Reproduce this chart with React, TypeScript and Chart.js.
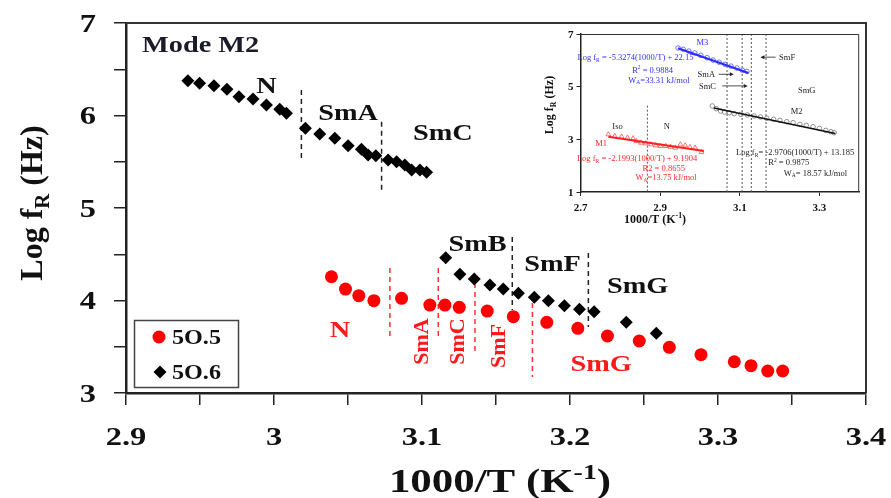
import React, { useEffect, useRef } from 'react';
import { Chart, registerables } from 'chart.js';
Chart.register(...registerables);

const FONT = '"Liberation Serif", "Times New Roman", serif';

// ---------- Main chart data ----------
const black56X = [2.9418, 2.9497, 2.9594, 2.9682, 2.9763, 2.9858, 2.9949, 3.0039, 3.0084,
  3.0212, 3.0309, 3.0411, 3.0501, 3.0591, 3.0636, 3.0688,
  3.0771, 3.0828, 3.0884, 3.0930, 3.0986, 3.1031,
  3.1160, 3.1256, 3.1353, 3.1459, 3.1549, 3.1651, 3.1759, 3.1854, 3.1962, 3.2064, 3.2163, 3.2380, 3.2583];
const black56Y = [6.376, 6.348, 6.322, 6.283, 6.203, 6.178, 6.114, 6.067, 6.024,
  5.862, 5.800, 5.754, 5.674, 5.635, 5.573, 5.565,
  5.519, 5.501, 5.465, 5.411, 5.411, 5.386,
  4.463, 4.283, 4.232, 4.168, 4.124, 4.078, 4.035, 3.998, 3.944, 3.905, 3.879, 3.764, 3.645];
const red55X = [3.0388, 3.0483, 3.0573, 3.0675, 3.0862, 3.1053, 3.1155, 3.1252, 3.1441, 3.1617,
  3.1843, 3.2053, 3.2253, 3.2468, 3.2671, 3.2885, 3.3110, 3.3223, 3.3336, 3.3437];
const red55Y = [4.257, 4.124, 4.052, 3.998, 4.024, 3.951, 3.951, 3.926, 3.886, 3.825,
  3.764, 3.699, 3.616, 3.562, 3.494, 3.414, 3.338, 3.295, 3.238, 3.238];

const blackDivX = [3.0185, 3.0727, 3.1610, 3.2124];
const blackDivTop = [6.276, 5.933, 4.686, 4.514];
const blackDivBottom = [5.497, 5.162, 3.897, 3.714];
const redDivX = [3.0783, 3.1110, 3.1358, 3.1746];
const redDivTop = [4.351, 4.351, 4.189, 3.973];
const redDivBottom = [3.573, 3.573, 3.411, 3.173];

const xAllTicks = [2.9, 2.95, 3.0, 3.05, 3.1, 3.15, 3.2, 3.25, 3.3, 3.35, 3.4];
const xMajorTicks = [2.9, 3.0, 3.1, 3.2, 3.3, 3.4];
const xTickLabels = ['2.9', '3', '3.1', '3.2', '3.3', '3.4'];
const yAllTicks = [3, 3.5, 4, 4.5, 5, 5.5, 6, 6.5, 7];
const yMajorTicks = [3, 4, 5, 6, 7];
const yTickLabels = ['3', '4', '5', '6', '7'];

const blackLabels = ['N', 'SmA', 'SmC', 'SmB', 'SmF', 'SmG'];
const blackLabelX = [2.9949, 3.0501, 3.1141, 3.1375, 3.1882, 3.2457];
const blackLabelY = [6.33, 6.041, 5.822, 4.622, 4.402, 4.168];
const redLabels = ['N', 'SmA', 'SmC', 'SmF', 'SmG'];
const redLabelX = [3.0445, 3.0993, 3.1234, 3.1514, 3.2210];
const redLabelY = [3.692, 3.557, 3.557, 3.508, 3.324];
const redLabelRot = [false, true, true, true, false];

// ---------- Inset data ----------
const m3X = [2.945, 2.958, 2.972, 2.987, 3.002, 3.018, 3.033, 3.048, 3.063, 3.078, 3.093, 3.107, 3.118];
const m3Y = [6.47, 6.42, 6.35, 6.28, 6.19, 6.10, 6.01, 5.93, 5.85, 5.78, 5.71, 5.62, 5.58];
const m3LineX = [2.945, 3.122];
const m3LineY = [6.46, 5.52];
const m1X = [2.770, 2.786, 2.803, 2.818, 2.832, 2.840, 2.852, 2.864, 2.877, 2.889, 2.901, 2.914, 2.926, 2.938, 2.951, 2.963, 2.975, 2.988, 3.004];
const m1Y = [3.187, 3.124, 3.098, 3.060, 3.034, 2.932, 2.869, 2.843, 2.805, 2.767, 2.742, 2.742, 2.716, 2.678, 2.805, 2.767, 2.703, 2.678, 2.513];
const m1LineX = [2.77, 3.01];
const m1LineY = [3.10, 2.56];
const m2X = [3.031, 3.041, 3.052, 3.062, 3.074, 3.086, 3.103, 3.119, 3.136, 3.152, 3.168, 3.185, 3.201, 3.218, 3.234, 3.251, 3.267, 3.284, 3.300, 3.316, 3.329, 3.337];
const m2Y = [4.267, 4.165, 4.076, 4.038, 4.013, 3.975, 3.949, 3.924, 3.886, 3.848, 3.797, 3.759, 3.721, 3.670, 3.632, 3.568, 3.530, 3.479, 3.416, 3.339, 3.289, 3.250];
const m2LineX = [3.035, 3.34];
const m2LineY = [4.19, 3.22];
const insetDivX = [2.868, 3.068, 3.106, 3.129, 3.166];
const insetDivTop = [4.28, 7, 7, 7, 7];
const insetDivBottom = [1, 1, 1, 1, 1];
const insetXTicks = [2.7, 2.9, 3.1, 3.3];
const insetXLabels = ['2.7', '2.9', '3.1', '3.3'];
const insetYTicks = [1, 3, 5, 7];
const insetYLabels = ['1', '3', '5', '7'];

const insetTexts = [
  'M3', 'Log f_{R} = -5.3274(1000/T) + 22.15', 'R^{2} = 0.9884', 'W_{A}=33.31 kJ/mol',
  'SmF', 'SmA', 'SmC', 'SmG', 'M2', 'Iso', 'N',
  'M1', 'Log f_{R} = -2.1993(1000/T) + 9.1904', 'R2 = 0.8655', 'W_{A}=13.75 kJ/mol',
  'Log f_{R}= -2.9706(1000/T) + 13.185', 'R^{2} = 0.9875', 'W_{A}= 18.57 kJ/mol',
];
const insetTextX = [3.006, 2.838, 2.881, 2.897, 3.219, 3.016, 3.019, 3.268, 3.243, 2.793, 2.917, 2.752, 2.842, 2.909, 2.915, 3.239, 3.223, 3.29];
const insetTextY = [6.68, 6.11, 5.64, 5.26, 6.12, 5.47, 5.03, 4.87, 4.08, 3.48, 3.48, 2.85, 2.28, 1.90, 1.56, 2.51, 2.13, 1.73];
const insetTextColor = ['#3030ff', '#3030ff', '#3030ff', '#3030ff', '#222', '#222', '#222', '#222', '#222', '#222', '#222',
  '#ff2a2a', '#ff2a2a', '#ff2a2a', '#ff2a2a', '#222', '#222', '#222'];
const arrowFromX = [3.19, 3.047, 3.056];
const arrowToX = [3.152, 3.085, 3.120];
const arrowY = [6.12, 5.47, 5.03];

// ---------- text helpers ----------
type Seg = { t: string; m: number };
function parseRich(s: string): Seg[] {
  const out: Seg[] = [];
  let buf = '';
  for (let i = 0; i < s.length; i++) {
    const c = s[i];
    if ((c === '_' || c === '^') && s[i + 1] === '{') {
      const j = s.indexOf('}', i);
      if (buf) { out.push({ t: buf, m: 0 }); buf = ''; }
      out.push({ t: s.slice(i + 2, j), m: c === '_' ? 1 : -1 });
      i = j;
    } else buf += c;
  }
  if (buf) out.push({ t: buf, m: 0 });
  return out;
}
type TOpt = { size: number; weight?: string; color: string; align?: string; stretch?: number; rotate?: number };
function drawRich(ctx: CanvasRenderingContext2D, s: string, x: number, y: number, o: TOpt) {
  const segs = parseRich(s);
  const fontFor = (m: number) => `${o.weight || 'normal'} ${m ? o.size * 0.65 : o.size}px ${FONT}`;
  let w = 0;
  const ws = segs.map((sg) => { ctx.font = fontFor(sg.m); const mw = ctx.measureText(sg.t).width; w += mw; return mw; });
  ctx.save();
  ctx.translate(x, y);
  if (o.rotate) ctx.rotate(o.rotate);
  ctx.scale(o.stretch || 1, 1);
  ctx.fillStyle = o.color;
  ctx.textBaseline = 'alphabetic';
  ctx.textAlign = 'left';
  let cx = o.align === 'left' ? 0 : o.align === 'right' ? -w : -w / 2;
  const base = o.size * 0.33;
  segs.forEach((sg, i) => {
    ctx.font = fontFor(sg.m);
    const dy = sg.m === 1 ? o.size * 0.22 : sg.m === -1 ? -o.size * 0.4 : 0;
    ctx.fillText(sg.t, cx, base + dy);
    cx += ws[i];
  });
  ctx.restore();
}

const pts = (xs: number[], ys: number[]) => xs.map((x, i) => ({ x, y: ys[i] }));

function dividerSets(xs: number[], tops: number[], bottoms: number[], color: string, dash: number[], width: number) {
  return xs.map((x, i) => ({
    type: 'line' as const,
    data: [{ x, y: tops[i] }, { x, y: bottoms[i] }],
    borderColor: color,
    borderWidth: width,
    borderDash: dash,
    pointRadius: 0,
    showLine: true,
    fill: false,
  }));
}

export default function App() {
  const mainRef = useRef<HTMLCanvasElement>(null);
  const insetRef = useRef<HTMLCanvasElement>(null);

  useEffect(() => {
    const mainDecor = {
      id: 'mainDecor',
      afterDraw(chart: any) {
        const { ctx, chartArea: ca, scales } = chart;
        const xs = scales.x, ys = scales.y;
        ctx.save();
        ctx.strokeStyle = '#333';
        ctx.lineWidth = 2;
        ctx.beginPath();
        ctx.moveTo(ca.left, ca.top);
        ctx.lineTo(ca.right, ca.top);
        ctx.lineTo(ca.right, ca.bottom);
        ctx.stroke();
        ctx.restore();
        const tk = { size: 26, weight: 'bold', color: '#111', stretch: 1.25 };
        xMajorTicks.forEach((v, i) => drawRich(ctx, xTickLabels[i], xs.getPixelForValue(v), ca.bottom + 43, tk));
        yMajorTicks.forEach((v, i) => drawRich(ctx, yTickLabels[i], ca.left - 30, ys.getPixelForValue(v), { ...tk, align: 'right' }));
        drawRich(ctx, '1000/T (K^{-1})', 500, 481, { size: 33, weight: 'bold', color: '#111', stretch: 1.3 });
        drawRich(ctx, 'Log f_{R} (Hz)', 31, 203, { size: 32, weight: 'bold', color: '#111', rotate: -Math.PI / 2 });
        drawRich(ctx, 'Mode M2', 142, 44, { size: 24, weight: 'bold', color: '#1a1a2a', align: 'left', stretch: 1.18 });
        blackLabels.forEach((t, i) => drawRich(ctx, t, xs.getPixelForValue(blackLabelX[i]), ys.getPixelForValue(blackLabelY[i]), { size: 24, weight: 'bold', color: '#111', stretch: 1.18 }));
        redLabels.forEach((t, i) => drawRich(ctx, t, xs.getPixelForValue(redLabelX[i]), ys.getPixelForValue(redLabelY[i]),
          redLabelRot[i] ? { size: 22, weight: 'bold', color: '#ff1a1a', rotate: -Math.PI / 2 } : { size: 24, weight: 'bold', color: '#ff1a1a', stretch: 1.18 }));
        // legend
        ctx.save();
        ctx.fillStyle = '#fff';
        ctx.fillRect(134.5, 320.5, 104, 67);
        ctx.strokeStyle = '#444';
        ctx.lineWidth = 1.5;
        ctx.strokeRect(134.5, 320.5, 104, 67);
        ctx.fillStyle = '#ff0000';
        ctx.beginPath();
        ctx.arc(159, 337, 6.5, 0, Math.PI * 2);
        ctx.fill();
        ctx.fillStyle = '#000';
        ctx.beginPath();
        ctx.moveTo(160, 365.5); ctx.lineTo(166.5, 372); ctx.lineTo(160, 378.5); ctx.lineTo(153.5, 372);
        ctx.closePath();
        ctx.fill();
        ctx.restore();
        drawRich(ctx, '5O.5', 172, 337, { size: 21, weight: 'bold', color: '#111', align: 'left', stretch: 1.15 });
        drawRich(ctx, '5O.6', 172, 372, { size: 21, weight: 'bold', color: '#111', align: 'left', stretch: 1.15 });
      },
    };

    const main = new Chart(mainRef.current as HTMLCanvasElement, {
      type: 'scatter',
      data: {
        datasets: [
          { data: pts(red55X, red55Y), pointStyle: 'circle', pointRadius: 6.5, backgroundColor: '#ff0000', borderColor: '#ff0000', borderWidth: 0 },
          { data: pts(black56X, black56Y), pointStyle: 'rectRot', pointRadius: 6.5, backgroundColor: '#000', borderColor: '#000', borderWidth: 0 },
          ...dividerSets(redDivX, redDivTop, redDivBottom, '#ff3030', [5, 4], 1.5),
          ...dividerSets(blackDivX, blackDivTop, blackDivBottom, '#222', [5, 4], 1.5),
        ] as any,
      },
      options: {
        responsive: false,
        devicePixelRatio: 1,
        animation: false,
        events: [],
        layout: { padding: { top: 23, right: 25, left: 0, bottom: 0 } },
        plugins: { legend: { display: false }, tooltip: { enabled: false } },
        scales: {
          x: {
            type: 'linear', min: 2.9, max: 3.4,
            afterBuildTicks: (s: any) => { s.ticks = xAllTicks.map((v) => ({ value: v })); },
            afterFit: (s: any) => { s.height = 105; },
            ticks: { display: false },
            grid: { drawOnChartArea: false, drawTicks: true, tickLength: 12, color: '#222', lineWidth: 1.5 },
            border: { display: true, color: '#222', width: 2.5 },
          },
          y: {
            type: 'linear', min: 3, max: 7,
            afterBuildTicks: (s: any) => { s.ticks = yAllTicks.map((v) => ({ value: v })); },
            afterFit: (s: any) => { s.width = 126; },
            ticks: { display: false },
            grid: { drawOnChartArea: false, drawTicks: true, tickLength: 12, color: '#222', lineWidth: 1.5 },
            border: { display: true, color: '#222', width: 2.5 },
          },
        },
      } as any,
      plugins: [mainDecor],
    });

    const insetDecor = {
      id: 'insetDecor',
      afterDraw(chart: any) {
        const { ctx, chartArea: ca, scales } = chart;
        const xs = scales.x, ys = scales.y;
        ctx.save();
        ctx.strokeStyle = '#333';
        ctx.lineWidth = 1;
        ctx.beginPath();
        ctx.moveTo(ca.left, ca.top + 0.5);
        ctx.lineTo(ca.right - 0.5, ca.top + 0.5);
        ctx.lineTo(ca.right - 0.5, ca.bottom);
        ctx.stroke();
        ctx.restore();
        const tk = { size: 11, weight: 'bold', color: '#111' };
        insetXTicks.forEach((v, i) => drawRich(ctx, insetXLabels[i], xs.getPixelForValue(v), ca.bottom + 15, tk));
        insetYTicks.forEach((v, i) => drawRich(ctx, insetYLabels[i], ca.left - 7, ys.getPixelForValue(v), { ...tk, align: 'right' }));
        drawRich(ctx, '1000/T (K^{-1})', 127, 195, { size: 12, weight: 'bold', color: '#111' });
        drawRich(ctx, 'Log f_{R} (Hz)', 21, 81, { size: 12, weight: 'bold', color: '#111', rotate: -Math.PI / 2 });
        insetTexts.forEach((t, i) => drawRich(ctx, t, xs.getPixelForValue(insetTextX[i]), ys.getPixelForValue(insetTextY[i]), { size: 8.5, color: insetTextColor[i] }));
        ctx.save();
        ctx.strokeStyle = '#222';
        ctx.fillStyle = '#222';
        ctx.lineWidth = 0.8;
        arrowFromX.forEach((fx, i) => {
          const x1 = xs.getPixelForValue(fx), x2 = xs.getPixelForValue(arrowToX[i]), yy = ys.getPixelForValue(arrowY[i]);
          const d = x2 > x1 ? 1 : -1;
          ctx.beginPath(); ctx.moveTo(x1, yy); ctx.lineTo(x2 - d * 3, yy); ctx.stroke();
          ctx.beginPath(); ctx.moveTo(x2, yy); ctx.lineTo(x2 - d * 4, yy - 2); ctx.lineTo(x2 - d * 4, yy + 2); ctx.closePath(); ctx.fill();
        });
        ctx.restore();
      },
    };

    const inset = new Chart(insetRef.current as HTMLCanvasElement, {
      type: 'scatter',
      data: {
        datasets: [
          { type: 'line', data: pts(m3LineX, m3LineY), borderColor: '#2a2aff', borderWidth: 2, pointRadius: 0, showLine: true },
          { type: 'line', data: pts(m1LineX, m1LineY), borderColor: '#ff2020', borderWidth: 2, pointRadius: 0, showLine: true },
          { type: 'line', data: pts(m2LineX, m2LineY), borderColor: '#111', borderWidth: 1.5, pointRadius: 0, showLine: true },
          { data: pts(m3X, m3Y), pointStyle: 'circle', pointRadius: 2.3, backgroundColor: 'rgba(255,255,255,0)', borderColor: '#5050ff', borderWidth: 0.8 },
          { data: pts(m1X, m1Y), pointStyle: 'triangle', pointRadius: 2.8, backgroundColor: 'rgba(255,255,255,0)', borderColor: '#ff5050', borderWidth: 0.8 },
          { data: pts(m2X, m2Y), pointStyle: 'circle', pointRadius: 2.3, backgroundColor: 'rgba(255,255,255,0)', borderColor: '#777', borderWidth: 0.8 },
          ...dividerSets(insetDivX, insetDivTop, insetDivBottom, '#555', [2, 2], 1),
        ] as any,
      },
      options: {
        responsive: false,
        devicePixelRatio: 1,
        animation: false,
        events: [],
        layout: { padding: { top: 10, right: 4.5, left: 0, bottom: 0 } },
        plugins: { legend: { display: false }, tooltip: { enabled: false } },
        scales: {
          x: {
            type: 'linear', min: 2.7, max: 3.4,
            afterBuildTicks: (s: any) => { s.ticks = insetXTicks.map((v) => ({ value: v })); },
            afterFit: (s: any) => { s.height = 42; },
            ticks: { display: false },
            grid: { drawOnChartArea: false, drawTicks: true, tickLength: 4, color: '#222', lineWidth: 1 },
            border: { display: true, color: '#222', width: 1.5 },
          },
          y: {
            type: 'linear', min: 1, max: 7,
            afterBuildTicks: (s: any) => { s.ticks = insetYTicks.map((v) => ({ value: v })); },
            afterFit: (s: any) => { s.width = 52.5; },
            ticks: { display: false },
            grid: { drawOnChartArea: false, drawTicks: true, tickLength: 4, color: '#222', lineWidth: 1 },
            border: { display: true, color: '#222', width: 1.5 },
          },
        },
      } as any,
      plugins: [insetDecor],
    });

    return () => { main.destroy(); inset.destroy(); };
  }, []);

  return (
    <div style={{ position: 'absolute', left: 0, top: 0, width: 891, height: 498, background: '#fff' }}>
      <canvas ref={mainRef} width={891} height={498} style={{ position: 'absolute', left: 0, top: 0, width: 891, height: 498 }} />
      <canvas ref={insetRef} width={336} height={210} style={{ position: 'absolute', left: 528, top: 24, width: 336, height: 210 }} />
    </div>
  );
}
